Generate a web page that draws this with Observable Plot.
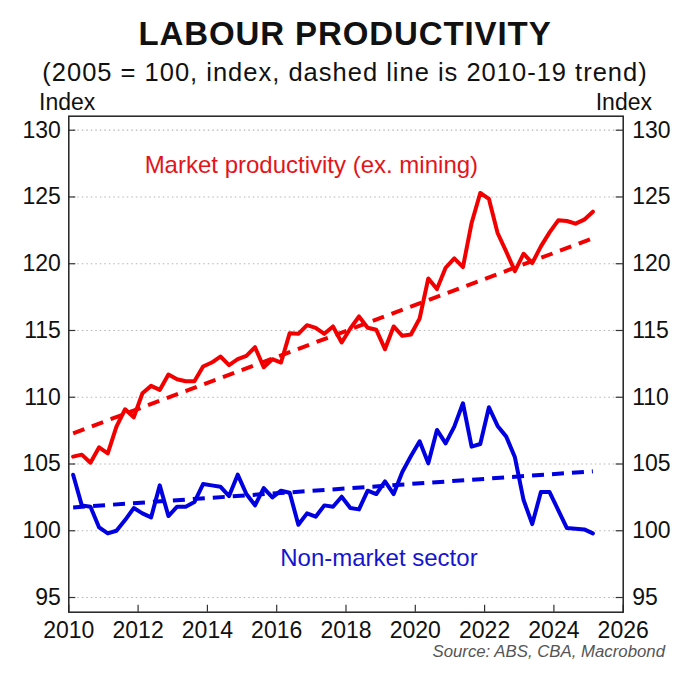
<!DOCTYPE html>
<html><head><meta charset="utf-8">
<script src="https://cdn.jsdelivr.net/npm/d3@7"></script>
<script src="https://cdn.jsdelivr.net/npm/@observablehq/plot@0.6"></script>
<style>
html,body{margin:0;padding:0;background:#fff;overflow:hidden}
#wrap{position:relative;width:680px;height:678px;font-family:"Liberation Sans",Arial,Helvetica,sans-serif;color:#111}
.t{position:absolute;white-space:nowrap;line-height:1}
#chart{position:absolute;left:0;top:0}
</style></head><body>
<div id="wrap">
<div id="chart"></div>
<div class="t" style="left:0;width:690px;text-align:center;top:17px;font-size:33px;font-weight:bold;letter-spacing:0.9px">LABOUR PRODUCTIVITY</div>
<div class="t" style="left:0;width:690px;text-align:center;top:60px;font-size:25.5px;letter-spacing:1px">(2005 = 100, index, dashed line is 2010-19 trend)</div>
<div class="t" style="left:39px;top:91px;font-size:23px">Index</div>
<div class="t" style="right:28px;top:91px;font-size:23px">Index</div>
<div class="t" style="right:15px;top:644px;font-size:16.8px;font-style:italic;color:#555">Source: ABS, CBA, Macrobond</div>
</div>
<script>
// Quarterly index values, March quarter 2010 to March quarter 2025
const marketProductivity = [
  105.55, 105.7, 105.1, 106.25, 105.8, 107.8, 109.1, 108.5,
  110.3, 110.85, 110.55, 111.7, 111.35, 111.2, 111.2, 112.3,
  112.6, 113.05, 112.4, 112.85, 113.1, 113.75, 112.25, 112.85,
  112.6, 114.8, 114.75, 115.4, 115.2, 114.75, 115.3, 114.1,
  115.15, 116.05, 115.2, 115.05, 113.6, 115.3, 114.6, 114.7,
  115.9, 118.9, 118.1, 119.7, 120.4, 119.75, 123.05, 125.3,
  124.85, 122.3, 120.9, 119.45, 120.75, 120.05, 121.3, 122.35,
  123.25, 123.2, 123.0, 123.3, 123.9
];
const nonMarket = [
  104.2, 101.9, 101.8, 100.25, 99.8, 100.0, 100.8, 101.7,
  101.3, 101.0, 103.4, 101.1, 101.8, 101.8, 102.15, 103.5,
  103.4, 103.3, 102.6, 104.2, 102.75, 101.9, 103.2, 102.5,
  103.0, 102.85, 100.45, 101.3, 101.05, 101.9, 101.8, 102.55,
  101.7, 101.6, 103.0, 102.75, 103.7, 102.75, 104.4, 105.6,
  106.7, 105.05, 107.55, 106.55, 107.8, 109.55, 106.3, 106.5,
  109.25, 107.85, 107.05, 105.5, 102.3, 100.5, 102.9, 102.9,
  101.55, 100.2, 100.15, 100.1, 99.8
];
// 2010-19 trend lines (start and end of the dashed lines)
const trendDates = [2010.125, 2025.125];
const marketTrend = [107.3, 121.9];
const nonMarketTrend = [101.75, 104.45];

const xTicks = [2010, 2012, 2014, 2016, 2018, 2020, 2022, 2024, 2026];
const yTicks = [95, 100, 105, 110, 115, 120, 125, 130];

const seriesLabels = [
  {x: 2017.0, y: 127.35, text: "Market productivity (ex. mining)", color: "#e3141b"},
  {x: 2018.95, y: 97.97, text: "Non-market sector", color: "#1515cf"}
];

const quarterDates = marketProductivity.map((_, k) => 2010.125 + k * 0.25);
const marketRows = marketProductivity.map((v, i) => ({date: quarterDates[i], value: v}));
const nonMarketRows = nonMarket.map((v, i) => ({date: quarterDates[i], value: v}));
const marketTrendRows = marketTrend.map((v, i) => ({date: trendDates[i], value: v}));
const nonMarketTrendRows = nonMarketTrend.map((v, i) => ({date: trendDates[i], value: v}));

const W = 680, H = 678, mL = 68.3, mR = 57.3, mT = 115.7, mB = 66.3;
const plotW = W - mL - mR, plotH = H - mT - mB;
const RED = "#f20000", BLUE = "#0000e0";

const chart = Plot.plot({
  width: W, height: H,
  marginLeft: mL, marginRight: mR, marginTop: mT, marginBottom: mB,
  style: {fontFamily: '"Liberation Sans", Arial, Helvetica, sans-serif', fontSize: "23px", color: "#111", background: "transparent", overflow: "visible"},
  x: {domain: [2010, 2026]},
  y: {domain: [93.9, 131.05]},
  marks: [
    Plot.gridY(yTicks, {stroke: "#b5b5b5", strokeOpacity: 1, strokeWidth: 1.2, strokeDasharray: "1.5,3"}),
    Plot.tickY(yTicks, {y: d => d, insetRight: plotW - 7, stroke: "#333", strokeWidth: 1.2}),
    Plot.tickY(yTicks, {y: d => d, insetLeft: plotW - 7, stroke: "#333", strokeWidth: 1.2}),
    Plot.tickX(xTicks, {x: d => d, insetTop: plotH - 7, stroke: "#333", strokeWidth: 1.2}),
    Plot.axisY(yTicks, {anchor: "left", tickSize: 0, tickPadding: 8, label: null, fontSize: 23}),
    Plot.axisY(yTicks, {anchor: "right", tickSize: 0, tickPadding: 9, label: null, fontSize: 23}),
    Plot.axisX(xTicks, {anchor: "bottom", tickSize: 0, tickPadding: 9, label: null, fontSize: 23, tickFormat: d => String(d)}),
    Plot.line(marketTrendRows, {x: "date", y: "value", stroke: RED, strokeWidth: 4, strokeDasharray: "12,8", strokeLinecap: "butt"}),
    Plot.line(nonMarketTrendRows, {x: "date", y: "value", stroke: BLUE, strokeWidth: 4, strokeDasharray: "12,8", strokeLinecap: "butt"}),
    Plot.line(marketRows, {x: "date", y: "value", stroke: RED, strokeWidth: 4, strokeLinejoin: "round"}),
    Plot.line(nonMarketRows, {x: "date", y: "value", stroke: BLUE, strokeWidth: 4, strokeLinejoin: "round"}),
    Plot.frame({stroke: "#222", strokeWidth: 1.5}),
    Plot.text(seriesLabels, {x: "x", y: "y", text: "text", fill: "color", fontSize: 24})
  ]
});
document.getElementById("chart").appendChild(chart);
</script>
</body></html>
